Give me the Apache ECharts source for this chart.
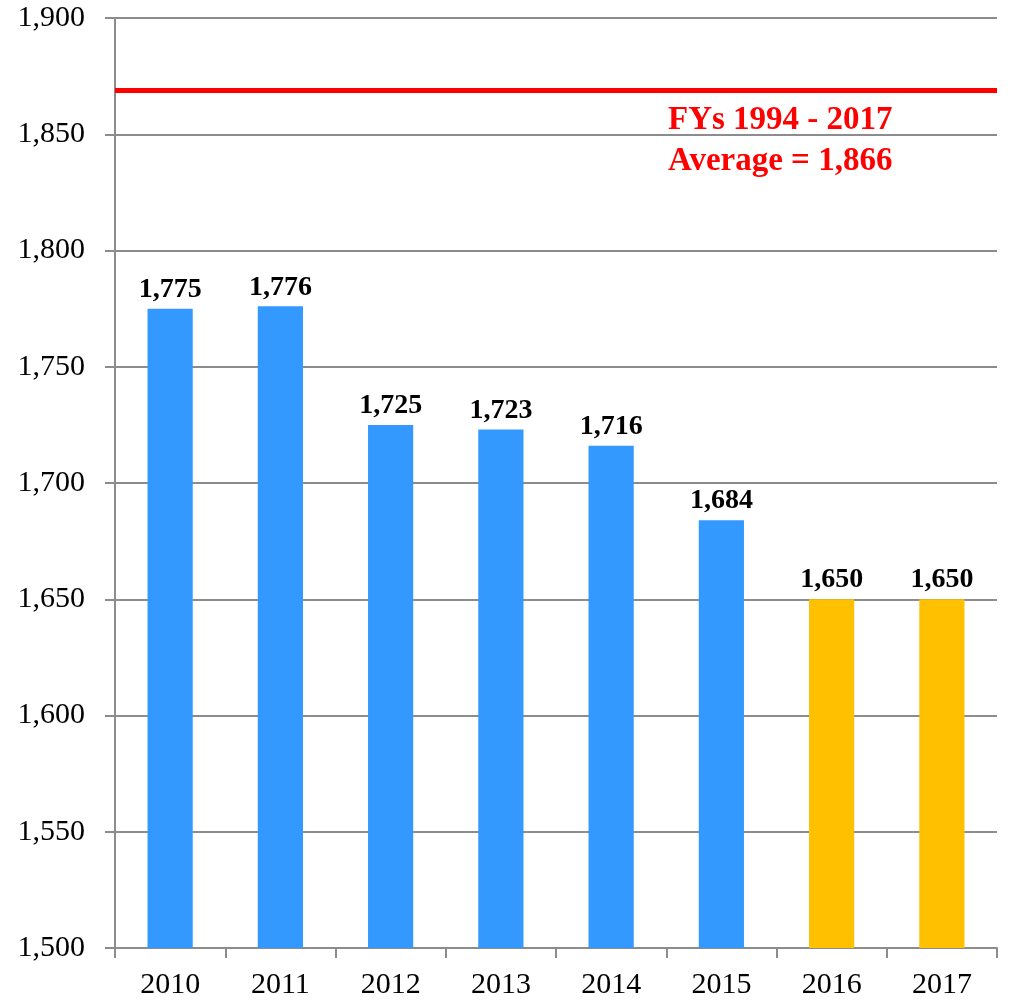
<!DOCTYPE html>
<html>
<head>
<meta charset="utf-8">
<script src="https://cdn.jsdelivr.net/npm/echarts@6/dist/echarts.min.js"></script>
<style>
  html, body { margin: 0; padding: 0; background: #fff; }
  #chart { width: 1015px; height: 1001px; }
</style>
</head>
<body>
<div id="chart"></div>
<script>
// values
var years = ['2010', '2011', '2012', '2013', '2014', '2015', '2016', '2017'];
var values = [1775, 1776, 1725, 1723, 1716, 1684, 1650, 1650];
var barColors = ['#3399FF', '#3399FF', '#3399FF', '#3399FF', '#3399FF', '#3399FF', '#FFC000', '#FFC000'];
var avgLineValue = 1869; // where the red line sits
var avgText = ['FYs 1994 - 2017', 'Average = 1,866'];

var serif = '"Liberation Serif", "Times New Roman", serif';
var gridGray = '#8c8c8c';

var chart = echarts.init(document.getElementById('chart'));

var option = {
  backgroundColor: '#fff',
  animation: false,
  grid: { left: 115, right: 18, top: 18, bottom: 53 },
  xAxis: {
    type: 'category',
    data: years,
    axisLine: { lineStyle: { color: gridGray, width: 2 } },
    axisTick: { show: true, length: 10, lineStyle: { color: gridGray, width: 2 } },
    axisLabel: { color: '#000', fontFamily: serif, fontSize: 30, margin: 22 }
  },
  yAxis: {
    type: 'value',
    min: 1500,
    max: 1900,
    interval: 50,
    axisLine: { show: true, lineStyle: { color: gridGray, width: 2 } },
    axisTick: { show: true, length: 10, lineStyle: { color: gridGray, width: 2 } },
    splitLine: { lineStyle: { color: gridGray, width: 2 } },
    axisLabel: {
      color: '#000', fontFamily: serif, fontSize: 30, margin: 30,
      formatter: function (v) { return v.toLocaleString('en-US'); }
    }
  },
  series: [{
    type: 'bar',
    barWidth: '41%',
    data: values.map(function (v, i) {
      return { value: v, itemStyle: { color: barColors[i] } };
    }),
    label: {
      show: true,
      position: 'top',
      distance: 5,
      color: '#000',
      fontFamily: serif,
      fontWeight: 'bold',
      fontSize: 28,
      formatter: function (p) { return p.value.toLocaleString('en-US'); }
    },
    markLine: {
      symbol: 'none',
      silent: true,
      lineStyle: { color: '#FF0000', width: 5, type: 'solid' },
      label: { show: false },
      data: [{ yAxis: avgLineValue }]
    }
  }],
  graphic: [{
    type: 'text',
    left: 668,
    top: 100,
    style: {
      text: avgText.join('\n'),
      fill: '#FF0000',
      font: 'bold 33px ' + serif,
      lineHeight: 41
    }
  }]
};

chart.setOption(option);
</script>
</body>
</html>
